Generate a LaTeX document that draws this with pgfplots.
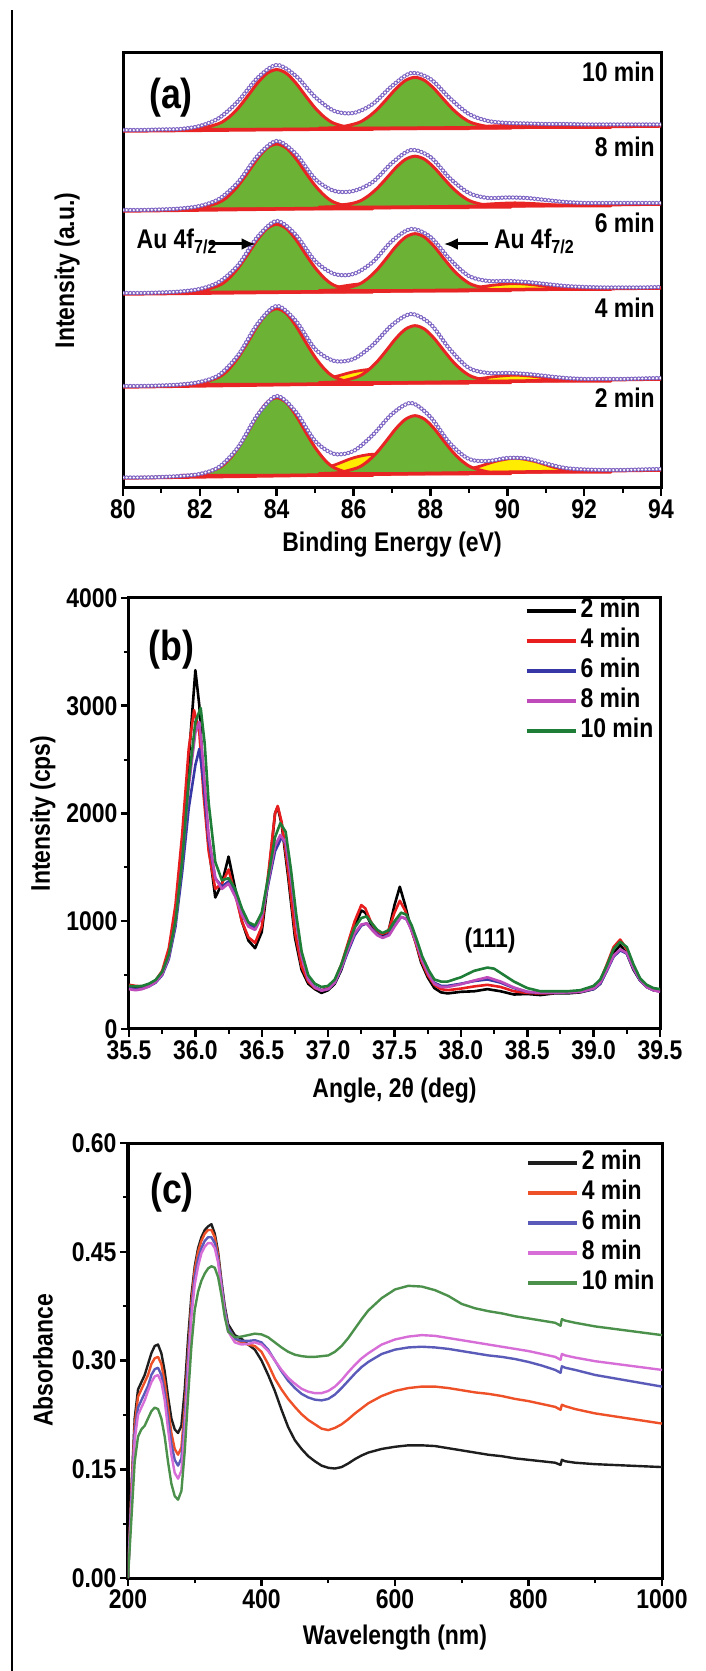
\documentclass[border=0pt]{standalone}
\usepackage{pgfplots}
\pgfplotsset{compat=1.18}
\usepackage{fontspec}
\setmainfont{Liberation Sans}[FakeStretch=0.85]
\usetikzlibrary{arrows.meta}

\definecolor{xgreen}{RGB}{108,178,52}
\definecolor{xyellow}{RGB}{255,236,0}
\definecolor{xred}{RGB}{232,36,36}
\definecolor{xdata}{RGB}{125,100,195}
\definecolor{bred}{RGB}{232,30,30}
\definecolor{bblue}{RGB}{55,55,165}
\definecolor{bmag}{RGB}{190,75,185}
\definecolor{bgreen}{RGB}{30,125,55}
\definecolor{cblack}{RGB}{30,30,30}
\definecolor{cred}{RGB}{238,80,40}
\definecolor{cblue}{RGB}{90,90,185}
\definecolor{cmag}{RGB}{215,110,215}
\definecolor{cgreen}{RGB}{75,145,75}

\newcommand{\bigfont}{\fontsize{27}{30}\selectfont\bfseries}
\newcommand{\hugefont}{\fontsize{42}{44}\selectfont\bfseries}

\pgfplotsset{
  myaxis/.style={
    scale only axis,
    axis line style={line width=3pt},
    tick align=outside,
    major tick length=8pt,
    minor tick length=5pt,
    major tick style={line width=2.5pt, black},
    minor tick style={line width=2pt, black},
    xtick pos=bottom, ytick pos=left,
    tick label style={font=\bigfont},
    label style={font=\bigfont},
    /pgf/number format/assume math mode=true,
  },
  mylegend/.style={
    legend style={draw=none, fill=none, font=\bigfont, inner sep=0pt, outer sep=0pt,
      row sep=4pt, column sep=2pt,
      nodes={inner sep=1pt, text height=19pt, text depth=5pt}},
    legend cell align=left,
    legend image code/.code={\draw[##1, line width=4pt] (0pt,0pt) -- (49pt,0pt);},
  },
  gpeak/.style={smooth, fill=xgreen, draw=xred, line width=3pt, line join=round},
  ypeak/.style={smooth, fill=xyellow, draw=xred, line width=2.8pt, line join=round},
  bline/.style={draw=xred, line width=3.5pt},
  dring/.style={smooth, no markers, draw=xdata, line width=4.4pt, line cap=round, dash pattern=on 0pt off 3.6pt},
  dhole/.style={smooth, no markers, draw=white, line width=2.4pt, line cap=round, dash pattern=on 0pt off 3.6pt},
  bser/.style={line width=2.6pt, line join=round, no markers},
  cser/.style={line width=2.4pt, line join=round, no markers},
}

\begin{document}
\begin{tikzpicture}[x=1pt,y=1pt]
\path[use as bounding box] (0,0) rectangle (706,1671);
\draw[line width=1.5pt] (12,0) -- (12,1661);

% ---------------- (a) ----------------
\begin{axis}[myaxis, at={(123pt,1183pt)}, anchor=south west,
  width=538pt, height=435pt,
  xmin=80, xmax=94, ymin=0, ymax=435,
  xtick={80,82,84,86,88,90,92,94},
  xticklabels={80,82,84,86,88,90,92,94},
  minor x tick num=1,
  ytick=\empty,
  xlabel={Binding Energy (eV)},
  ylabel={Intensity (a.u.)},
  xlabel style={at={(axis description cs:0.5,-0.129)}, anchor=center},
  ylabel style={at={(axis description cs:-0.104,0.5)}, anchor=center},
]
% 10 min
\addplot[ypeak] coordinates {(84,359.3)(84.5,359.4)(85,359.8)(85.5,360.7)(86,361.8)(86.5,362.3)(87,361.8)(87.5,360.7)(88,359.8)(88.5,359.4)(89,359.3)} -- cycle;
\addplot[ypeak] coordinates {(87.7,360.6)(88.2,360.6)(88.7,360.8)(89.2,361.3)(89.7,362.2)(90.2,362.6)(90.7,362.2)(91.2,361.3)(91.7,360.8)(92.2,360.6)(92.7,360.6)} -- cycle;
\addplot[gpeak] coordinates {(81.5,358.5)(82,359.4)(82.5,364.5)(82.75,370.6)(83,380.0)(83.25,392.2)(83.5,404.9)(83.75,414.7)(84,418.4)(84.25,414.7)(84.5,404.9)(84.75,392.2)(85,380.0)(85.25,370.6)(85.5,364.5)(86,359.4)(86.5,358.5)} -- cycle;
\addplot[gpeak] coordinates {(85.1,359.8)(85.6,360.6)(86.1,364.9)(86.35,370.1)(86.6,378.1)(86.85,388.4)(87.1,399.2)(87.35,407.5)(87.6,410.7)(87.85,407.5)(88.1,399.2)(88.35,388.4)(88.6,378.1)(88.85,370.1)(89.1,364.9)(89.6,360.6)(90.1,359.8)} -- cycle;
\addplot[bline] coordinates {(80,357)(94,362)};
\addplot[dring] coordinates {(80,358)(80.5,358)(81,358.5)(81.5,359)(82,362)(82.5,370)(83,387)(83.5,410)(84,423)(84.5,412)(85,391)(85.5,377)(86,375)(86.5,384)(87,402)(87.5,415)(88,409)(88.5,390)(89,374)(89.5,367)(90,365)(90.5,364.5)(91,364)(91.5,364)(92,363.5)(92.5,363.5)(93,363.5)(93.5,363.5)(94,363.5)};
\addplot[dhole] coordinates {(80,358)(80.5,358)(81,358.5)(81.5,359)(82,362)(82.5,370)(83,387)(83.5,410)(84,423)(84.5,412)(85,391)(85.5,377)(86,375)(86.5,384)(87,402)(87.5,415)(88,409)(88.5,390)(89,374)(89.5,367)(90,365)(90.5,364.5)(91,364)(91.5,364)(92,363.5)(92.5,363.5)(93,363.5)(93.5,363.5)(94,363.5)};
% 8 min
\addplot[ypeak] coordinates {(84,280.3)(84.5,280.5)(85,281.1)(85.5,282.5)(86,284.4)(86.5,285.3)(87,284.4)(87.5,282.5)(88,281.1)(88.5,280.5)(89,280.3)} -- cycle;
\addplot[ypeak] coordinates {(87.7,282.1)(88.2,282.2)(88.7,282.4)(89.2,283.2)(89.7,284.4)(90.2,285.1)(90.7,284.4)(91.2,283.2)(91.7,282.4)(92.2,282.2)(92.7,282.1)} -- cycle;
\addplot[gpeak] coordinates {(81.5,279.1)(82,280.1)(82.5,285.6)(82.75,292.2)(83,302.4)(83.25,315.6)(83.5,329.4)(83.75,340.0)(84,344)(84.25,340.0)(84.5,329.4)(84.75,315.6)(85,302.4)(85.25,292.2)(85.5,285.6)(86,280.1)(86.5,279.1)} -- cycle;
\addplot[gpeak] coordinates {(85.1,280.9)(85.6,281.7)(86.1,286.0)(86.35,291.2)(86.6,299.2)(86.85,309.5)(87.1,320.3)(87.35,328.6)(87.6,331.8)(87.85,328.6)(88.1,320.3)(88.35,309.5)(88.6,299.2)(88.85,291.2)(89.1,286.0)(89.6,281.7)(90.1,280.9)} -- cycle;
\addplot[bline] coordinates {(80,277)(94,284)};
\addplot[dring] coordinates {(80,278)(80.5,278)(81,278.5)(81.5,279.5)(82,282)(82.5,289)(83,306)(83.5,332)(84,347)(84.5,334)(85,309)(85.5,297)(86,297)(86.5,306)(87,325)(87.5,338)(88,331)(88.5,310)(89,295)(89.5,290)(90,290.5)(90.5,290)(91,288)(91.5,286)(92,285)(92.5,285)(93,285)(93.5,285)(94,285)};
\addplot[dhole] coordinates {(80,278)(80.5,278)(81,278.5)(81.5,279.5)(82,282)(82.5,289)(83,306)(83.5,332)(84,347)(84.5,334)(85,309)(85.5,297)(86,297)(86.5,306)(87,325)(87.5,338)(88,331)(88.5,310)(89,295)(89.5,290)(90,290.5)(90.5,290)(91,288)(91.5,286)(92,285)(92.5,285)(93,285)(93.5,285)(94,285)};
% 6 min
\addplot[ypeak] coordinates {(84,196.9)(84.5,197.2)(85,198.2)(85.5,200.5)(86,203.4)(86.5,204.8)(87,203.4)(87.5,200.5)(88,198.2)(88.5,197.2)(89,196.9)} -- cycle;
\addplot[ypeak] coordinates {(87.7,198.4)(88.2,198.5)(88.7,199.0)(89.2,200.6)(89.7,203.1)(90.2,204.4)(90.7,203.1)(91.2,200.6)(91.7,199.0)(92.2,198.5)(92.7,198.4)} -- cycle;
\addplot[gpeak] coordinates {(81.5,195.8)(82,196.9)(82.5,202.6)(82.75,209.5)(83,220.2)(83.25,234.0)(83.5,248.4)(83.75,259.5)(84,263.7)(84.25,259.5)(84.5,248.4)(84.75,234.0)(85,220.2)(85.25,209.5)(85.5,202.6)(86,196.9)(86.5,195.8)} -- cycle;
\addplot[gpeak] coordinates {(85.1,197.4)(85.6,198.3)(86.1,203.1)(86.35,208.9)(86.6,217.8)(86.85,229.4)(87.1,241.5)(87.35,250.8)(87.6,254.3)(87.85,250.8)(88.1,241.5)(88.35,229.4)(88.6,217.8)(88.85,208.9)(89.1,203.1)(89.6,198.3)(90.1,197.4)} -- cycle;
\addplot[bline] coordinates {(80,194)(94,200)};
\addplot[dring] coordinates {(80,195)(80.5,195)(81,195.5)(81.5,196.5)(82,199)(82.5,206)(83,223)(83.5,251)(84,267)(84.5,253)(85,227)(85.5,214)(86,214)(86.5,226)(87,247)(87.5,259)(88,251)(88.5,229)(89,212)(89.5,207)(90,207)(90.5,206)(91,204)(91.5,202)(92,201)(92.5,200.5)(93,200.5)(93.5,200.5)(94,201)};
\addplot[dhole] coordinates {(80,195)(80.5,195)(81,195.5)(81.5,196.5)(82,199)(82.5,206)(83,223)(83.5,251)(84,267)(84.5,253)(85,227)(85.5,214)(86,214)(86.5,226)(87,247)(87.5,259)(88,251)(88.5,229)(89,212)(89.5,207)(90,207)(90.5,206)(91,204)(91.5,202)(92,201)(92.5,200.5)(93,200.5)(93.5,200.5)(94,201)};
% 4 min
\addplot[ypeak] coordinates {(84,104.8)(84.5,105.3)(85,107.1)(85.5,111.1)(86,116.2)(86.5,118.7)(87,116.2)(87.5,111.1)(88,107.1)(88.5,105.3)(89,104.8)} -- cycle;
\addplot[ypeak] coordinates {(87.7,106.8)(88.2,106.9)(88.7,107.4)(89.2,109.0)(89.7,111.5)(90.2,112.8)(90.7,111.5)(91.2,109.0)(91.7,107.4)(92.2,106.9)(92.7,106.8)} -- cycle;
\addplot[gpeak] coordinates {(81.5,103.5)(82,104.6)(82.5,111.0)(82.75,118.7)(83,130.7)(83.25,146.1)(83.5,162.2)(83.75,174.6)(84,179.3)(84.25,174.6)(84.5,162.2)(84.75,146.1)(85,130.7)(85.25,118.7)(85.5,111.0)(86,104.6)(86.5,103.5)} -- cycle;
\addplot[gpeak] coordinates {(85.1,105.4)(85.6,106.3)(86.1,111.1)(86.35,116.9)(86.6,125.8)(86.85,137.4)(87.1,149.5)(87.35,158.8)(87.6,162.3)(87.85,158.8)(88.1,149.5)(88.35,137.4)(88.6,125.8)(88.85,116.9)(89.1,111.1)(89.6,106.3)(90.1,105.4)} -- cycle;
\addplot[bline] coordinates {(80,101)(94,109)};
\addplot[dring] coordinates {(80,102)(80.5,102)(81,102.5)(81.5,103.5)(82,106)(82.5,113)(83,133)(83.5,164)(84,182)(84.5,167)(85,139)(85.5,127)(86,129)(86.5,143)(87,163)(87.5,174)(88,164)(88.5,139)(89,120)(89.5,115)(90,115)(90.5,114)(91,112)(91.5,110)(92,109)(92.5,109)(93,109)(93.5,109.5)(94,110)};
\addplot[dhole] coordinates {(80,102)(80.5,102)(81,102.5)(81.5,103.5)(82,106)(82.5,113)(83,133)(83.5,164)(84,182)(84.5,167)(85,139)(85.5,127)(86,129)(86.5,143)(87,163)(87.5,174)(88,164)(88.5,139)(89,120)(89.5,115)(90,115)(90.5,114)(91,112)(91.5,110)(92,109)(92.5,109)(93,109)(93.5,109.5)(94,110)};
% 2 min
\addplot[ypeak] coordinates {(84,13.9)(84.5,14.6)(85,17.1)(85.5,22.9)(86,30.2)(86.5,33.7)(87,30.2)(87.5,22.9)(88,17.1)(88.5,14.6)(89,13.9)} -- cycle;
\addplot[ypeak] coordinates {(87.7,15.8)(88.2,16.0)(88.7,17.2)(89.2,20.8)(89.7,26.7)(90.2,29.8)(90.7,26.7)(91.2,20.8)(91.7,17.2)(92.2,16.0)(92.7,15.8)} -- cycle;
\addplot[gpeak] coordinates {(81.5,12.5)(82,13.6)(82.5,20.2)(82.75,28.1)(83,40.4)(83.25,56.2)(83.5,72.8)(83.75,85.5)(84,90.3)(84.25,85.5)(84.5,72.8)(84.75,56.2)(85,40.4)(85.25,28.1)(85.5,20.2)(86,13.6)(86.5,12.5)} -- cycle;
\addplot[gpeak] coordinates {(85.1,14.4)(85.6,15.3)(86.1,20.2)(86.35,26.1)(86.6,35.2)(86.85,47.0)(87.1,59.3)(87.35,68.7)(87.6,72.3)(87.85,68.7)(88.1,59.3)(88.35,47.0)(88.6,35.2)(88.85,26.1)(89.1,20.2)(89.6,15.3)(90.1,14.4)} -- cycle;
\addplot[bline] coordinates {(80,10)(94,18)};
\addplot[dring] coordinates {(80,10.5)(80.5,10.5)(81,11)(81.5,12)(82,14)(82.5,21)(83,41)(83.5,73)(84,92)(84.5,76)(85,47)(85.5,34)(86,37)(86.5,53)(87,74)(87.5,85)(88,71)(88.5,45)(89,29)(89.5,27)(90,30)(90.5,29.5)(91,24.5)(91.5,20)(92,18.5)(92.5,18)(93,18)(93.5,18.5)(94,19)};
\addplot[dhole] coordinates {(80,10.5)(80.5,10.5)(81,11)(81.5,12)(82,14)(82.5,21)(83,41)(83.5,73)(84,92)(84.5,76)(85,47)(85.5,34)(86,37)(86.5,53)(87,74)(87.5,85)(88,71)(88.5,45)(89,29)(89.5,27)(90,30)(90.5,29.5)(91,24.5)(91.5,20)(92,18.5)(92.5,18)(93,18)(93.5,18.5)(94,19)};

\node[font=\bigfont, anchor=east] at (axis cs:93.93,416) {10 min};
\node[font=\bigfont, anchor=east] at (axis cs:93.93,341) {8 min};
\node[font=\bigfont, anchor=east] at (axis cs:93.93,265) {6 min};
\node[font=\bigfont, anchor=east] at (axis cs:93.93,180) {4 min};
\node[font=\bigfont, anchor=east] at (axis cs:93.93,90) {2 min};
\node[font=\hugefont] at (axis cs:81.25,390) {(a)};
\node[font=\bigfont, anchor=base east, inner sep=0pt] at (axis cs:82.45,239.5) {Au 4f\textsubscript{7/2}};
\node[font=\bigfont, anchor=base west, inner sep=0pt] at (axis cs:89.65,239.5) {Au 4f\textsubscript{7/2}};
\draw[line width=3pt, -{Latex[length=14pt,width=12pt]}] (axis cs:82.25,244) -- (axis cs:83.45,244);
\draw[line width=3pt, -{Latex[length=14pt,width=12pt]}] (axis cs:89.5,244) -- (axis cs:88.35,244);
\end{axis}

% ---------------- (b) ----------------
\begin{axis}[myaxis, mylegend, at={(129pt,642pt)}, anchor=south west,
  width=531pt, height=431pt,
  xmin=35.5, xmax=39.5, ymin=0, ymax=4000,
  xtick={35.5,36,36.5,37,37.5,38,38.5,39,39.5},
  xticklabels={35.5,36.0,36.5,37.0,37.5,38.0,38.5,39.0,39.5},
  ytick={0,1000,2000,3000,4000},
  yticklabels={0,1000,2000,3000,4000},
  minor x tick num=1, minor y tick num=1,
  xlabel={Angle, 2θ (deg)},
  ylabel={Intensity (cps)},
  xlabel style={at={(axis description cs:0.5,-0.142)}, anchor=center},
  ylabel style={at={(axis description cs:-0.162,0.5)}, anchor=center},
  legend style={at={(rel axis cs:0.745,1)}, anchor=north west},
]
\addplot[bser, black] coordinates {(35.50,400)(35.55,385)(35.60,380)(35.65,405)(35.70,440)(35.75,520)(35.80,700)(35.85,1050)(35.90,1650)(35.95,2500)(36.00,3330)(36.03,3000)(36.06,2300)(36.10,1700)(36.15,1220)(36.20,1350)(36.25,1600)(36.30,1300)(36.35,1000)(36.40,820)(36.45,750)(36.50,900)(36.55,1400)(36.60,2000)(36.62,2060)(36.65,1900)(36.70,1400)(36.75,850)(36.80,550)(36.85,420)(36.90,370)(36.95,335)(37.00,360)(37.05,420)(37.10,550)(37.15,750)(37.20,950)(37.25,1100)(37.28,1080)(37.32,980)(37.36,900)(37.40,860)(37.45,880)(37.50,1150)(37.54,1320)(37.58,1150)(37.62,950)(37.66,800)(37.70,620)(37.75,480)(37.80,380)(37.85,340)(37.90,330)(38.00,345)(38.10,350)(38.20,370)(38.30,350)(38.40,320)(38.50,325)(38.60,315)(38.70,330)(38.80,330)(38.90,340)(39.00,370)(39.05,420)(39.10,550)(39.15,700)(39.20,780)(39.25,700)(39.30,550)(39.35,450)(39.40,390)(39.45,360)(39.50,350)};
\addplot[bser, bred] coordinates {(35.50,410)(35.55,400)(35.60,395)(35.65,410)(35.70,450)(35.75,540)(35.80,750)(35.85,1150)(35.90,1800)(35.95,2600)(35.99,2960)(36.03,2750)(36.06,2200)(36.10,1650)(36.15,1300)(36.20,1350)(36.25,1480)(36.30,1250)(36.35,1000)(36.40,850)(36.45,800)(36.50,950)(36.55,1450)(36.60,2000)(36.62,2070)(36.65,1920)(36.70,1450)(36.75,900)(36.80,580)(36.85,440)(36.90,380)(36.95,360)(37.00,380)(37.05,450)(37.10,600)(37.15,800)(37.20,1000)(37.25,1150)(37.28,1120)(37.32,1000)(37.36,920)(37.40,880)(37.45,900)(37.50,1080)(37.54,1190)(37.58,1100)(37.62,950)(37.66,800)(37.70,640)(37.75,500)(37.80,410)(37.85,370)(37.90,360)(38.00,375)(38.10,395)(38.20,410)(38.30,390)(38.40,350)(38.50,335)(38.60,330)(38.70,335)(38.80,340)(38.90,345)(39.00,380)(39.05,450)(39.10,600)(39.15,760)(39.20,830)(39.25,740)(39.30,580)(39.35,460)(39.40,400)(39.45,370)(39.50,360)};
\addplot[bser, bblue] coordinates {(35.50,380)(35.55,370)(35.60,375)(35.65,395)(35.70,430)(35.75,500)(35.80,650)(35.85,950)(35.90,1450)(35.95,2050)(36.00,2450)(36.03,2600)(36.06,2300)(36.10,1750)(36.15,1400)(36.20,1320)(36.25,1370)(36.30,1250)(36.35,1080)(36.40,970)(36.45,940)(36.50,1050)(36.55,1350)(36.60,1650)(36.65,1780)(36.68,1720)(36.72,1400)(36.76,1000)(36.80,680)(36.85,470)(36.90,390)(36.95,360)(37.00,370)(37.05,430)(37.10,560)(37.15,720)(37.20,870)(37.25,960)(37.29,980)(37.33,930)(37.37,880)(37.41,850)(37.46,880)(37.50,960)(37.55,1040)(37.59,1020)(37.63,920)(37.67,790)(37.71,640)(37.76,510)(37.80,430)(37.85,400)(37.90,400)(38.00,420)(38.10,445)(38.20,460)(38.30,430)(38.40,380)(38.50,345)(38.60,335)(38.70,335)(38.80,340)(38.90,345)(39.00,370)(39.05,420)(39.10,540)(39.15,670)(39.20,730)(39.25,700)(39.30,560)(39.35,450)(39.40,390)(39.45,360)(39.50,350)};
\addplot[bser, bmag] coordinates {(35.50,370)(35.55,360)(35.60,370)(35.65,395)(35.70,435)(35.75,510)(35.80,670)(35.85,990)(35.90,1550)(35.95,2250)(36.00,2750)(36.03,2850)(36.06,2450)(36.10,1800)(36.15,1400)(36.20,1300)(36.25,1350)(36.30,1230)(36.35,1060)(36.40,950)(36.45,920)(36.50,1040)(36.55,1380)(36.60,1700)(36.64,1800)(36.68,1730)(36.72,1400)(36.76,1000)(36.80,670)(36.85,460)(36.90,385)(36.95,355)(37.00,370)(37.05,430)(37.10,570)(37.15,740)(37.20,890)(37.25,970)(37.29,980)(37.33,920)(37.37,870)(37.41,845)(37.46,870)(37.50,950)(37.55,1040)(37.59,1020)(37.63,910)(37.67,780)(37.71,630)(37.76,500)(37.80,420)(37.85,390)(37.90,390)(38.00,415)(38.10,450)(38.20,480)(38.30,440)(38.40,385)(38.50,345)(38.60,335)(38.70,335)(38.80,340)(38.90,345)(39.00,375)(39.05,430)(39.10,550)(39.15,680)(39.20,740)(39.25,705)(39.30,565)(39.35,455)(39.40,390)(39.45,360)(39.50,345)};
\addplot[bser, bgreen] coordinates {(35.50,400)(35.55,395)(35.60,400)(35.65,420)(35.70,455)(35.75,530)(35.80,690)(35.85,1000)(35.90,1550)(35.95,2300)(36.00,2850)(36.04,2980)(36.07,2650)(36.10,2100)(36.15,1550)(36.20,1380)(36.25,1400)(36.30,1300)(36.35,1120)(36.40,990)(36.45,960)(36.50,1080)(36.55,1420)(36.60,1780)(36.64,1910)(36.68,1830)(36.72,1480)(36.76,1060)(36.80,720)(36.85,500)(36.90,420)(36.95,390)(37.00,400)(37.05,460)(37.10,600)(37.15,780)(37.20,940)(37.25,1030)(37.29,1045)(37.33,980)(37.37,920)(37.41,890)(37.46,920)(37.50,1000)(37.55,1080)(37.59,1060)(37.63,960)(37.67,820)(37.71,670)(37.76,540)(37.80,460)(37.85,440)(37.90,440)(38.00,480)(38.10,540)(38.20,570)(38.25,560)(38.30,520)(38.40,440)(38.50,380)(38.60,350)(38.70,350)(38.80,350)(38.90,360)(39.00,400)(39.05,460)(39.10,590)(39.15,740)(39.20,810)(39.25,760)(39.30,600)(39.35,470)(39.40,410)(39.45,380)(39.50,370)};
\legend{2 min,4 min,6 min,8 min,10 min}
\node[font=\hugefont] at (axis cs:35.82,3520) {(b)};
\node[font=\bigfont] at (axis cs:38.22,825) {(111)};
\end{axis}

% ---------------- (c) ----------------
\begin{axis}[myaxis, mylegend, at={(128pt,93pt)}, anchor=south west,
  width=534pt, height=435pt,
  xmin=200, xmax=1000, ymin=0, ymax=0.6,
  xtick={200,400,600,800,1000},
  xticklabels={200,400,600,800,1000},
  ytick={0,0.15,0.3,0.45,0.6},
  yticklabels={0.00,0.15,0.30,0.45,0.60},
  minor x tick num=1, minor y tick num=1,
  xlabel={Wavelength (nm)},
  ylabel={Absorbance},
  xlabel style={at={(axis description cs:0.5,-0.138)}, anchor=center},
  ylabel style={at={(axis description cs:-0.159,0.5)}, anchor=center},
  legend style={at={(rel axis cs:0.745,0.984)}, anchor=north west},
]
\addplot[cser, cblack] coordinates {(200,0.00)(205,0.12)(210,0.22)(215,0.26)(220,0.27)(225,0.28)(230,0.295)(235,0.31)(240,0.32)(245,0.322)(250,0.31)(255,0.285)(260,0.25)(265,0.22)(270,0.205)(275,0.200)(280,0.21)(285,0.26)(290,0.33)(295,0.39)(300,0.43)(305,0.455)(310,0.47)(315,0.48)(320,0.485)(325,0.488)(330,0.475)(335,0.45)(340,0.41)(345,0.375)(350,0.35)(360,0.335)(370,0.33)(380,0.322)(390,0.315)(400,0.30)(410,0.28)(420,0.258)(430,0.232)(440,0.208)(450,0.19)(460,0.178)(470,0.168)(480,0.161)(490,0.155)(500,0.152)(510,0.151)(520,0.153)(530,0.158)(540,0.164)(550,0.169)(560,0.173)(580,0.178)(600,0.181)(620,0.183)(640,0.183)(660,0.182)(680,0.179)(700,0.176)(720,0.173)(740,0.17)(760,0.168)(780,0.165)(800,0.163)(820,0.161)(840,0.159)(848,0.156)(850,0.163)(855,0.161)(870,0.159)(900,0.157)(950,0.155)(1000,0.153)};
\addplot[cser, cred] coordinates {(200,0.00)(205,0.12)(210,0.21)(215,0.25)(220,0.26)(225,0.27)(230,0.28)(235,0.295)(240,0.303)(245,0.305)(250,0.295)(255,0.27)(260,0.235)(265,0.2)(270,0.178)(275,0.17)(280,0.18)(285,0.235)(290,0.31)(295,0.38)(300,0.425)(305,0.45)(310,0.465)(315,0.475)(320,0.48)(325,0.48)(330,0.47)(335,0.445)(340,0.405)(345,0.37)(350,0.345)(360,0.33)(370,0.325)(380,0.322)(390,0.32)(400,0.312)(410,0.295)(420,0.275)(430,0.26)(440,0.247)(450,0.236)(460,0.226)(470,0.218)(480,0.212)(490,0.206)(500,0.204)(510,0.207)(520,0.212)(530,0.219)(540,0.227)(550,0.234)(560,0.241)(580,0.251)(600,0.258)(620,0.262)(640,0.264)(660,0.264)(680,0.262)(700,0.259)(720,0.256)(740,0.254)(760,0.251)(780,0.247)(800,0.244)(820,0.24)(840,0.236)(848,0.232)(850,0.239)(855,0.237)(870,0.233)(900,0.227)(950,0.22)(1000,0.213)};
\addplot[cser, cblue] coordinates {(200,0.00)(205,0.11)(210,0.2)(215,0.235)(220,0.245)(225,0.255)(230,0.265)(235,0.28)(240,0.288)(245,0.29)(250,0.28)(255,0.255)(260,0.22)(265,0.185)(270,0.163)(275,0.155)(280,0.165)(285,0.22)(290,0.3)(295,0.37)(300,0.415)(305,0.44)(310,0.455)(315,0.465)(320,0.47)(325,0.47)(330,0.462)(335,0.44)(340,0.405)(345,0.37)(350,0.345)(360,0.33)(370,0.327)(380,0.327)(390,0.328)(400,0.325)(410,0.315)(420,0.3)(430,0.285)(440,0.272)(450,0.262)(460,0.254)(470,0.249)(480,0.246)(490,0.245)(500,0.247)(510,0.253)(520,0.262)(530,0.272)(540,0.282)(550,0.291)(560,0.298)(580,0.309)(600,0.315)(620,0.318)(640,0.319)(660,0.318)(680,0.316)(700,0.313)(720,0.31)(740,0.307)(760,0.305)(780,0.302)(800,0.298)(820,0.293)(840,0.287)(848,0.283)(850,0.292)(855,0.29)(870,0.287)(900,0.28)(950,0.272)(1000,0.264)};
\addplot[cser, cmag] coordinates {(200,0.00)(205,0.1)(210,0.19)(215,0.225)(220,0.235)(225,0.245)(230,0.258)(235,0.27)(240,0.278)(245,0.28)(250,0.27)(255,0.245)(260,0.205)(265,0.17)(270,0.145)(275,0.137)(280,0.148)(285,0.205)(290,0.285)(295,0.36)(300,0.405)(305,0.43)(310,0.448)(315,0.457)(320,0.462)(325,0.462)(330,0.455)(335,0.435)(340,0.4)(345,0.365)(350,0.34)(360,0.325)(370,0.322)(380,0.323)(390,0.325)(400,0.322)(410,0.313)(420,0.3)(430,0.287)(440,0.276)(450,0.268)(460,0.261)(470,0.257)(480,0.255)(490,0.255)(500,0.258)(510,0.264)(520,0.273)(530,0.284)(540,0.294)(550,0.303)(560,0.31)(580,0.322)(600,0.329)(620,0.333)(640,0.335)(660,0.334)(680,0.331)(700,0.328)(720,0.325)(740,0.322)(760,0.319)(780,0.316)(800,0.313)(820,0.309)(840,0.305)(848,0.301)(850,0.309)(855,0.307)(870,0.304)(900,0.299)(950,0.293)(1000,0.287)};
\addplot[cser, cgreen] coordinates {(200,0.00)(205,0.08)(210,0.16)(215,0.195)(220,0.205)(225,0.21)(230,0.22)(235,0.23)(240,0.235)(245,0.233)(250,0.22)(255,0.195)(260,0.16)(265,0.13)(270,0.113)(275,0.108)(280,0.12)(285,0.175)(290,0.25)(295,0.32)(300,0.37)(305,0.395)(310,0.41)(315,0.42)(320,0.427)(325,0.43)(330,0.428)(335,0.415)(340,0.39)(345,0.36)(350,0.34)(360,0.332)(370,0.333)(380,0.335)(390,0.337)(400,0.336)(410,0.332)(420,0.325)(430,0.318)(440,0.312)(450,0.308)(460,0.306)(470,0.305)(480,0.305)(490,0.306)(500,0.307)(510,0.312)(520,0.32)(530,0.331)(540,0.344)(550,0.357)(560,0.369)(580,0.386)(600,0.398)(620,0.403)(640,0.402)(660,0.397)(680,0.389)(700,0.378)(720,0.372)(740,0.368)(760,0.365)(780,0.361)(800,0.358)(820,0.355)(840,0.352)(848,0.348)(850,0.357)(855,0.355)(870,0.352)(900,0.347)(950,0.341)(1000,0.335)};
\legend{2 min,4 min,6 min,8 min,10 min}
\node[font=\hugefont] at (axis cs:266,0.532) {(c)};
\end{axis}
\end{tikzpicture}
\end{document}
